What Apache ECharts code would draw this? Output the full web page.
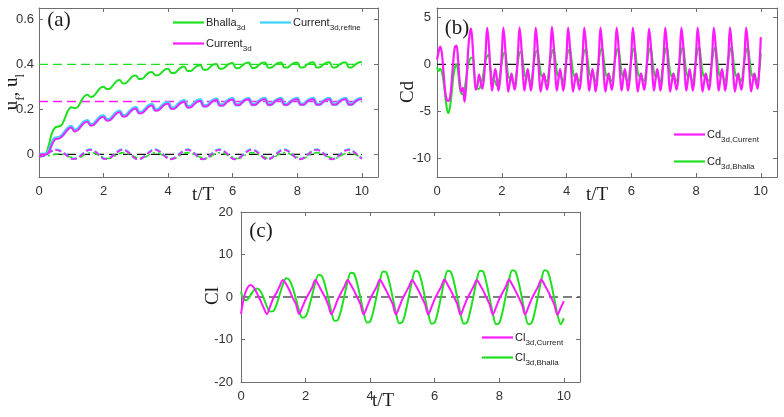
<!DOCTYPE html>
<html>
<head>
<meta charset="utf-8">
<script src="https://cdn.jsdelivr.net/npm/echarts@6.0.0/dist/echarts.min.js"></script>
<style>
  html, body { margin: 0; padding: 0; background: #fff; }
  #chart { width: 784px; height: 417px; }
</style>
</head>
<body>
<div id="chart"></div>
<script>
// ---- data ----
// (a) u_f rising curves and u_l oscillations, sampled every 0.1 t/T
const ufBhalla = [
  0.000, 0.000, 0.002, 0.040, 0.095, 0.120, 0.124, 0.130, 0.160, 0.195,
  0.210, 0.205, 0.210, 0.235, 0.258, 0.265, 0.255, 0.260, 0.278, 0.295,
  0.300, 0.290, 0.292, 0.308, 0.325, 0.330, 0.315, 0.318, 0.332, 0.347,
  0.350, 0.335, 0.336, 0.350, 0.363, 0.366, 0.352, 0.352, 0.364, 0.377,
  0.380, 0.362, 0.362, 0.374, 0.386, 0.390, 0.370, 0.370, 0.382, 0.393,
  0.396, 0.376, 0.376, 0.388, 0.399, 0.402, 0.380, 0.381, 0.392, 0.403,
  0.406, 0.383, 0.384, 0.395, 0.405, 0.408, 0.384, 0.385, 0.396, 0.406,
  0.408, 0.385, 0.386, 0.397, 0.406, 0.408, 0.386, 0.386, 0.397, 0.406,
  0.408, 0.386, 0.387, 0.398, 0.407, 0.409, 0.386, 0.387, 0.398, 0.407,
  0.409, 0.386, 0.387, 0.398, 0.407, 0.409, 0.386, 0.388, 0.399, 0.408,
  0.410
];
const ufCurrent = [
  0.000, 0.000, 0.000, 0.010, 0.045, 0.068, 0.070, 0.078, 0.095, 0.112,
  0.120, 0.102, 0.108, 0.125, 0.140, 0.146, 0.128, 0.132, 0.148, 0.162,
  0.167, 0.150, 0.152, 0.167, 0.182, 0.188, 0.168, 0.170, 0.185, 0.198,
  0.204, 0.182, 0.184, 0.198, 0.212, 0.218, 0.195, 0.196, 0.210, 0.222,
  0.226, 0.202, 0.203, 0.217, 0.229, 0.234, 0.208, 0.209, 0.222, 0.234,
  0.238, 0.213, 0.213, 0.226, 0.238, 0.242, 0.217, 0.217, 0.230, 0.241,
  0.244, 0.219, 0.219, 0.232, 0.242, 0.245, 0.220, 0.220, 0.233, 0.243,
  0.246, 0.220, 0.221, 0.234, 0.243, 0.246, 0.220, 0.221, 0.234, 0.243,
  0.246, 0.221, 0.221, 0.234, 0.243, 0.246, 0.221, 0.221, 0.234, 0.243,
  0.246, 0.221, 0.221, 0.234, 0.243, 0.246, 0.221, 0.222, 0.235, 0.244,
  0.246
];
const ufRefine = [
  0.000, 0.000, 0.001, 0.013, 0.049, 0.072, 0.074, 0.082, 0.099, 0.116,
  0.124, 0.106, 0.112, 0.129, 0.144, 0.150, 0.132, 0.136, 0.152, 0.166,
  0.171, 0.154, 0.156, 0.171, 0.186, 0.192, 0.172, 0.174, 0.189, 0.202,
  0.208, 0.186, 0.188, 0.202, 0.216, 0.222, 0.199, 0.200, 0.214, 0.226,
  0.230, 0.206, 0.207, 0.221, 0.233, 0.238, 0.212, 0.213, 0.226, 0.238,
  0.242, 0.216, 0.216, 0.229, 0.241, 0.245, 0.220, 0.220, 0.233, 0.244,
  0.247, 0.221, 0.221, 0.234, 0.244, 0.247, 0.222, 0.222, 0.235, 0.245,
  0.248, 0.222, 0.223, 0.236, 0.245, 0.248, 0.222, 0.223, 0.236, 0.245,
  0.248, 0.223, 0.223, 0.236, 0.245, 0.248, 0.223, 0.223, 0.236, 0.245,
  0.248, 0.223, 0.223, 0.236, 0.245, 0.248, 0.223, 0.224, 0.237, 0.246,
  0.248
];
const ulCurrent = [
  -0.010, -0.008, -0.002, 0.007, 0.015, 0.020, 0.019, 0.012, 0.002, -0.009,
  -0.019, -0.020, -0.015, -0.005, 0.008, 0.018, 0.021, 0.016, 0.006, -0.008,
  -0.019, -0.020, -0.015, -0.005, 0.008, 0.018, 0.021, 0.016, 0.006, -0.008,
  -0.019, -0.021, -0.016, -0.005, 0.008, 0.018, 0.021, 0.016, 0.006, -0.008,
  -0.019, -0.021, -0.016, -0.005, 0.008, 0.018, 0.021, 0.016, 0.006, -0.008,
  -0.019, -0.021, -0.016, -0.005, 0.008, 0.018, 0.021, 0.016, 0.006, -0.008,
  -0.019, -0.021, -0.016, -0.005, 0.008, 0.018, 0.021, 0.016, 0.006, -0.008,
  -0.019, -0.021, -0.016, -0.005, 0.008, 0.018, 0.021, 0.016, 0.006, -0.008,
  -0.019, -0.021, -0.016, -0.005, 0.008, 0.018, 0.021, 0.016, 0.006, -0.008,
  -0.019, -0.021, -0.016, -0.005, 0.008, 0.018, 0.021, 0.016, 0.006, -0.008,
  -0.019
];
const ulRefine = [
  -0.009, -0.007, -0.001, 0.008, 0.016, 0.021, 0.020, 0.013, 0.003, -0.008,
  -0.018, -0.019, -0.014, -0.004, 0.009, 0.019, 0.022, 0.017, 0.007, -0.007,
  -0.018, -0.019, -0.014, -0.004, 0.009, 0.019, 0.022, 0.017, 0.007, -0.007,
  -0.018, -0.020, -0.015, -0.004, 0.009, 0.019, 0.022, 0.017, 0.007, -0.007,
  -0.018, -0.020, -0.015, -0.004, 0.009, 0.019, 0.022, 0.017, 0.007, -0.007,
  -0.018, -0.020, -0.015, -0.004, 0.009, 0.019, 0.022, 0.017, 0.007, -0.007,
  -0.018, -0.020, -0.015, -0.004, 0.009, 0.019, 0.022, 0.017, 0.007, -0.007,
  -0.018, -0.020, -0.015, -0.004, 0.009, 0.019, 0.022, 0.017, 0.007, -0.007,
  -0.018, -0.020, -0.015, -0.004, 0.009, 0.019, 0.022, 0.017, 0.007, -0.007,
  -0.018, -0.020, -0.015, -0.004, 0.009, 0.019, 0.022, 0.017, 0.007, -0.007,
  -0.018
];
const ulBhalla = [
  -0.004, -0.006, -0.006, -0.005, -0.003, 0.000, 0.002, 0.001, -0.003, -0.008,
  -0.012, -0.018, -0.017, -0.011, -0.002, 0.005, 0.008, 0.006, 0.000, -0.007,
  -0.012, -0.018, -0.017, -0.011, -0.002, 0.005, 0.008, 0.006, 0.000, -0.007,
  -0.012, -0.018, -0.017, -0.011, -0.002, 0.005, 0.008, 0.006, 0.000, -0.007,
  -0.012, -0.018, -0.017, -0.011, -0.002, 0.005, 0.008, 0.006, 0.000, -0.007,
  -0.012, -0.018, -0.017, -0.011, -0.002, 0.005, 0.008, 0.006, 0.000, -0.007,
  -0.012, -0.018, -0.017, -0.011, -0.002, 0.005, 0.008, 0.006, 0.000, -0.007,
  -0.012, -0.018, -0.017, -0.011, -0.002, 0.005, 0.008, 0.006, 0.000, -0.007,
  -0.012, -0.018, -0.017, -0.011, -0.002, 0.005, 0.008, 0.006, 0.000, -0.007,
  -0.012, -0.018, -0.017, -0.011, -0.002, 0.005, 0.008, 0.006, 0.000, -0.007,
  -0.012
];
// dashed reference levels in (a): Bhalla, Current, zero
const levelsA = [0.4, 0.235, 0];

// (b) drag coefficient, sampled every 0.05 t/T
const cdCurrent = [
  0.5, 1.3, 1.9, 1.2, -0.8, -2.8, -3.8, -3.9, -3.6, -2.0,
  0.2, 1.8, 2.0, 0.5, -1.8, -2.9, -2.5, -4.0, -2.3, 0.8,
  3.0,
  3.8, 2.0, -0.9, -2.7, -2.2, -1.1, -1.9, -2.6, -1.5, 1.1,
  3.9, 2.2, -0.8, -2.8, -1.6, -0.5, -1.5, -2.8, -1.6, 1.0,
  3.9, 2.1, -0.9, -2.9, -1.9, -1.0, -1.9, -2.7, -1.5, 1.1,
  3.9, 2.2, -0.8, -2.8, -1.6, -0.5, -1.5, -2.8, -1.6, 1.0,
  3.9, 2.1, -0.9, -2.9, -1.9, -1.0, -1.9, -2.7, -1.5, 1.1,
  4.0, 2.2, -0.8, -2.8, -1.6, -0.5, -1.5, -2.8, -1.6, 1.0,
  3.9, 2.1, -0.9, -2.9, -1.9, -1.0, -1.9, -2.7, -1.5, 1.1,
  3.9, 2.2, -0.8, -2.8, -1.6, -0.5, -1.5, -2.9, -1.6, 1.0,
  3.9, 2.1, -0.9, -2.9, -1.9, -1.0, -1.9, -2.7, -1.5, 1.1,
  3.9, 2.2, -0.8, -2.8, -1.6, -0.5, -1.5, -2.8, -1.6, 1.0,
  3.9, 2.1, -0.9, -2.9, -1.9, -1.0, -1.9, -2.7, -1.5, 1.1,
  3.8, 2.2, -0.8, -2.8, -1.6, -0.5, -1.5, -2.8, -1.6, 1.0,
  3.9, 2.1, -0.9, -2.9, -1.9, -1.0, -1.9, -2.7, -1.5, 1.1,
  3.9, 2.2, -0.8, -2.8, -1.6, -0.5, -1.5, -2.8, -1.6, 1.0,
  3.9, 2.1, -0.9, -2.9, -1.9, -1.0, -1.9, -2.7, -1.5, 1.1,
  3.9, 2.2, -0.8, -2.8, -1.6, -0.5, -1.5, -2.8, -1.6, 1.0,
  3.9, 2.1, -0.9, -2.9, -1.9, -1.0, -1.9, -2.7, -1.5, 1.1,
  3.9, 2.1, -0.9, -2.9, -1.9, -1.0, -1.9, -2.6, -0.6, 2.9
];
const cdBhalla = [
  -0.3, -0.7, -0.5, -0.8, -1.8, -3.2, -4.6, -5.2, -4.6, -3.2,
  -1.5, -0.4, 0.0, -0.8, -2.4, -3.1, -3.2, -2.6, -1.5, -0.3,
  0.4,
  0.7, 0.7, -0.8, -2.4, -2.6, -2.6, -2.2, -1.6, -0.6, 0.4,
  0.9, 1.0, -0.3, -1.6, -1.7, -1.8, -2.3, -2.0, -1.0, 0.2,
  1.1, 1.3, 0.2, -1.2, -1.5, -1.4, -2.0, -2.0, -1.0, 0.3,
  1.2, 1.4, 0.4, -1.0, -1.3, -1.2, -1.8, -1.9, -0.9, 0.4,
  1.3, 1.5, 0.5, -0.9, -1.3, -1.1, -1.7, -1.8, -0.8, 0.5,
  1.3, 1.6, 0.6, -0.8, -1.3, -1.0, -1.6, -1.8, -0.8, 0.5,
  1.4, 1.6, 0.6, -0.8, -1.3, -1.0, -1.6, -1.8, -0.8, 0.5,
  1.4, 1.6, 0.6, -0.8, -1.3, -1.0, -1.6, -1.8, -0.8, 0.5,
  1.4, 1.7, 0.6, -0.8, -1.3, -1.0, -1.6, -1.8, -0.8, 0.5,
  1.4, 1.7, 0.6, -0.8, -1.3, -1.0, -1.6, -1.8, -0.8, 0.5,
  1.5, 1.7, 0.6, -0.8, -1.3, -1.0, -1.6, -1.8, -0.8, 0.5,
  1.5, 1.7, 0.6, -0.8, -1.3, -1.0, -1.6, -1.8, -0.8, 0.5,
  1.5, 1.8, 0.6, -0.8, -1.3, -1.0, -1.6, -1.8, -0.8, 0.5,
  1.5, 1.8, 0.6, -0.8, -1.3, -1.0, -1.6, -1.8, -0.8, 0.5,
  1.5, 1.8, 0.6, -0.8, -1.3, -1.0, -1.6, -1.8, -0.8, 0.5,
  1.5, 1.8, 0.6, -0.8, -1.3, -1.0, -1.6, -1.8, -0.8, 0.5,
  1.5, 1.8, 0.6, -0.8, -1.3, -1.0, -1.6, -1.8, -0.8, 0.5,
  1.5, 1.7, 0.6, -0.8, -1.3, -1.0, -1.6, -1.8, -0.8, 1.2
];

// (c) lift coefficient, sampled every 0.1 t/T
const clCurrent = [
  -4.0, 0.2, 2.2, 2.8, 2.2, 0.8, -0.8, -2.5, -4.0, -2.3,
  -0.3, 1.0, 2.6, 4.0, 3.0, 1.6, -0.2, -1.6, -4.0, -2.4,
  -0.6, 0.8, 2.2, 4.0, 2.8, 1.4, 0.0, -1.8, -4.1, -2.5,
  -0.5, 1.0, 2.4, 4.0, 2.9, 1.5, -0.1, -1.7, -4.1, -2.4,
  -0.5, 1.0, 2.4, 4.1, 2.9, 1.5, -0.1, -1.7, -4.1, -2.4,
  -0.5, 1.0, 2.4, 4.0, 2.9, 1.5, -0.1, -1.7, -4.1, -2.4,
  -0.5, 1.0, 2.4, 4.1, 2.9, 1.5, -0.1, -1.7, -4.2, -2.4,
  -0.5, 1.0, 2.4, 4.0, 2.9, 1.5, -0.1, -1.7, -4.1, -2.4,
  -0.5, 1.0, 2.4, 4.1, 2.9, 1.5, -0.1, -1.7, -4.1, -2.4,
  -0.5, 1.0, 2.4, 4.1, 2.9, 1.5, -0.1, -1.7, -4.2, -2.6,
  -1.0
];
const clBhalla = [
  1.3, -0.7, -0.6, 0.5, 1.6, 2.0, 1.4, -0.2, -2.2, -3.4,
  -3.3, -1.8, 0.6, 3.0, 4.4, 4.0, 2.2, -0.4, -3.2, -4.9,
  -4.6, -2.6, 0.3, 3.3, 5.2, 5.0, 2.9, -0.2, -3.5, -5.6,
  -5.4, -3.1, 0.2, 3.5, 5.7, 5.5, 3.2, -0.2, -3.7, -6.0,
  -5.8, -3.3, 0.2, 3.7, 6.0, 5.8, 3.3, -0.2, -3.8, -6.2,
  -5.9, -3.4, 0.2, 3.8, 6.1, 5.9, 3.4, -0.2, -3.9, -6.3,
  -6.0, -3.4, 0.2, 3.8, 6.2, 5.9, 3.4, -0.2, -3.9, -6.3,
  -6.0, -3.4, 0.2, 3.9, 6.2, 6.0, 3.4, -0.2, -3.9, -6.4,
  -6.1, -3.5, 0.2, 3.9, 6.3, 6.0, 3.4, -0.2, -4.0, -6.4,
  -6.1, -3.5, 0.2, 3.9, 6.3, 6.0, 3.4, -0.3, -4.0, -6.4,
  -5.0
];

// axis ticks
const xTicks = [0, 2, 4, 6, 8, 10];
const yTicksA = [0, 0.2, 0.4, 0.6];
const yTicksB = [-10, -5, 0, 5];
const yTicksC = [-20, -10, 0, 10, 20];

// ---- styling ----
const GREEN = '#1fe01f';
const MAGENTA = '#ff1aff';
const CYAN = '#3fd2ff';
const AXIS = '#6e6e6e';
const LABEL = '#333333';
const SANS = 'Liberation Sans, Arial, sans-serif';
const SERIF = 'Liberation Serif, Times New Roman, serif';

function pairs (values, step) {
  return values.map(function (v, i) { return [+(i * step).toFixed(2), v]; });
}

function xAxisPair (gridIndex) {
  const base = {
    gridIndex: gridIndex,
    type: 'value',
    min: 0,
    max: 10.5,
    axisLine: { show: true, onZero: false, lineStyle: { color: AXIS, width: 1 } },
    axisTick: { show: true, inside: true, length: 4, customValues: xTicks, lineStyle: { color: AXIS } },
    splitLine: { show: false }
  };
  return [
    Object.assign({}, base, {
      position: 'bottom',
      axisLabel: { customValues: xTicks, margin: 8, color: LABEL, fontSize: 13, fontFamily: SANS }
    }),
    Object.assign({}, base, { position: 'top', axisLabel: { show: false } })
  ];
}

function yAxisPair (gridIndex, min, max, ticks, margin) {
  const base = {
    gridIndex: gridIndex,
    type: 'value',
    min: min,
    max: max,
    axisLine: { show: true, onZero: false, lineStyle: { color: AXIS, width: 1 } },
    axisTick: { show: true, inside: true, length: 4, customValues: ticks, lineStyle: { color: AXIS } },
    splitLine: { show: false }
  };
  return [
    Object.assign({}, base, {
      position: 'left',
      axisLabel: { customValues: ticks, margin: margin, color: LABEL, fontSize: 13, fontFamily: SANS }
    }),
    Object.assign({}, base, { position: 'right', axisLabel: { show: false } })
  ];
}

function line (name, axisIdx, data, color, width, type, z, smooth) {
  return {
    name: name,
    type: 'line',
    xAxisIndex: axisIdx,
    yAxisIndex: axisIdx,
    data: data,
    symbol: 'none',
    showSymbol: false,
    smooth: smooth === undefined ? 0.3 : smooth,
    z: z || 2,
    lineStyle: { color: color, width: width, type: type || 'solid' },
    itemStyle: { color: color }
  };
}

function hline (axisIdx, level, x1, color, dash) {
  return {
    type: 'line',
    xAxisIndex: axisIdx,
    yAxisIndex: axisIdx,
    data: [[0, level], [x1, level]],
    symbol: 'none',
    silent: true,
    z: 1,
    lineStyle: { color: color, width: 1.3, type: dash }
  };
}

// subscripts: main text centred on the legend line, subscript dropped to the bottom
const legendRich = {
  m: { fontSize: 11, fontFamily: SANS, color: '#222', lineHeight: 19, verticalAlign: 'middle' },
  s: { fontSize: 8, fontFamily: SANS, color: '#222', lineHeight: 19, verticalAlign: 'bottom' }
};
const legendText = {
  Bhalla3d: '{m|Bhalla}{s|3d}',
  Current3dRefine: '{m|Current}{s|3d,refine}',
  Current3d: '{m|Current}{s|3d}',
  CdCurrent: '{m|Cd}{s|3d,Current}',
  CdBhalla: '{m|Cd}{s|3d,Bhalla}',
  ClCurrent: '{m|Cl}{s|3d,Current}',
  ClBhalla: '{m|Cl}{s|3d,Bhalla}'
};

function legendAt (name, left, top) {
  return {
    data: [{ name: name, icon: 'rect' }],
    left: left,
    top: top,
    padding: 0,
    itemWidth: 31,
    itemHeight: 2.2,
    itemGap: 0,
    selectedMode: false,
    formatter: function (n) { return legendText[n]; },
    textStyle: { rich: legendRich, padding: [0, 0, 0, -3] }
  };
}

function label (text, x, y, size, rotate) {
  return {
    type: 'text',
    x: x,
    y: y,
    rotation: rotate ? Math.PI / 2 : 0,
    style: {
      text: text,
      font: size + 'px ' + SERIF,
      fill: '#1a1a1a',
      textAlign: 'center',
      textVerticalAlign: 'middle'
    }
  };
}

const chart = echarts.init(document.getElementById('chart'), null, { renderer: 'canvas' });

const option = {
  animation: false,
  backgroundColor: '#fff',
  grid: [
    { left: 39, top: 8, width: 339, height: 169 },
    { left: 437, top: 8, width: 340, height: 169 },
    { left: 241, top: 212, width: 339, height: 170 }
  ],
  xAxis: [].concat(xAxisPair(0), xAxisPair(1), xAxisPair(2)),
  yAxis: [].concat(
    yAxisPair(0, -0.1, 0.65, yTicksA, 5),
    yAxisPair(1, -12, 6, yTicksB, 6),
    yAxisPair(2, -20, 20, yTicksC, 8)
  ),
  legend: [
    legendAt('Bhalla3d', 173, 17),
    legendAt('Current3dRefine', 260, 17),
    legendAt('Current3d', 173, 38),
    legendAt('CdCurrent', 674, 129),
    legendAt('CdBhalla', 674, 156),
    legendAt('ClCurrent', 482, 332),
    legendAt('ClBhalla', 482, 352)
  ],
  series: [
    // (a)
    hline(0, levelsA[0], 10, GREEN, [9, 5]),
    hline(0, levelsA[1], 10, MAGENTA, [9, 5]),
    hline(0, levelsA[2], 10, '#111', [9, 5]),
    line('Bhalla3d', 0, pairs(ufBhalla, 0.1), GREEN, 2, 'solid', 3),
    line('Current3dRefine', 0, pairs(ufRefine, 0.1), CYAN, 3.5, 'solid', 3),
    line('Current3d', 0, pairs(ufCurrent, 0.1), MAGENTA, 1.8, 'solid', 4),
    line('ulRefine', 0, pairs(ulRefine, 0.1), CYAN, 2.5, [6, 3], 3),
    line('ulCurrent', 0, pairs(ulCurrent, 0.1), MAGENTA, 1.6, [6, 3], 4),
    line('ulBhalla', 0, pairs(ulBhalla, 0.1), GREEN, 1.6, [6, 3, 2, 3], 3),
    // (b)
    hline(2, 0, 10, '#111', [9, 5]),
    line('CdBhalla', 2, pairs(cdBhalla, 0.05), GREEN, 2, 'solid', 3, 0.4),
    line('CdCurrent', 2, pairs(cdCurrent, 0.05), MAGENTA, 2.2, 'solid', 4, 0.4),
    // (c)
    hline(4, 0, 10.5, '#555', [9, 5]),
    line('ClBhalla', 4, pairs(clBhalla, 0.1), GREEN, 2, 'solid', 3),
    line('ClCurrent', 4, pairs(clCurrent, 0.1), MAGENTA, 2, 'solid', 4)
  ],
  graphic: [
    label('(a)', 59, 20, 21),
    label('(b)', 457, 28, 21),
    label('(c)', 261, 231, 21),
    label('t/T', 203, 195, 19),
    label('t/T', 597, 195, 19),
    label('t/T', 383, 401, 19),
    label('Cd', 408, 92, 19, true),
    label('Cl', 213, 296, 19, true),
    {
      type: 'text',
      x: 15,
      y: 92,
      rotation: Math.PI / 2,
      style: {
        text: '{m|u}{s|f}{m|, u}{s|l}',
        textAlign: 'center',
        textVerticalAlign: 'middle',
        rich: {
          m: { fontSize: 19, fontFamily: SERIF, fill: '#1a1a1a', color: '#1a1a1a', lineHeight: 24, verticalAlign: 'top' },
          s: { fontSize: 13, fontFamily: SERIF, fill: '#1a1a1a', color: '#1a1a1a', lineHeight: 24, verticalAlign: 'bottom' }
        }
      }
    }
  ]
};

chart.setOption(option);

window.addEventListener('resize', function () {
  chart.resize();
});
</script>
</body>
</html>
